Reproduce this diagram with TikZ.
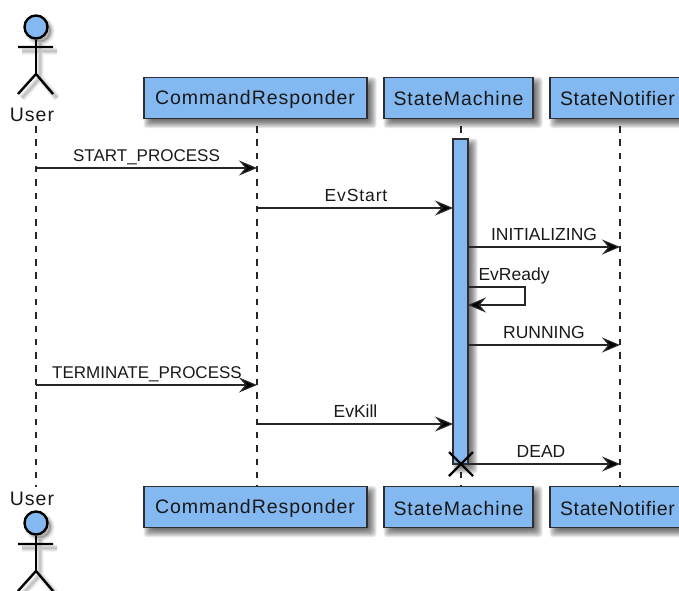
\documentclass[tikz,border=0pt]{standalone}
\usepackage{fontspec}
\setmainfont{Liberation Sans}
\newfontfamily\actorfont[LetterSpace=5]{Liberation Sans}
\newfontfamily\notifierfont[LetterSpace=3.2]{Liberation Sans}
\usetikzlibrary{arrows.meta}
\definecolor{umlblue}{RGB}{131,184,240}
\definecolor{umlline}{RGB}{45,45,50}
\newcommand{\softbox}[4]{%
  \foreach \m in {5,4,3,2,1,0,-1,-2,-3}{%
    \fill[black,opacity=.085,rounded corners=3pt]
      ({#1+4.5-\m},{#2+4.5-\m}) rectangle ({#3+4.5+\m},{#4+4.5+\m});%
  }%
}
\tikzset{
  x=1pt,y=-1pt,
  actorbox/.style={draw=umlline,line width=1.6pt,fill=umlblue,rectangle,inner sep=0pt,minimum height=41pt},
  boxtext/.style={font=\actorfont\fontsize{19.5}{22}\selectfont,text=black!90,inner sep=0pt},
  lifeline/.style={draw=black!85,line width=1.3pt,dash pattern=on 6.5pt off 6.8pt},
  msg/.style={draw=black!85,line width=1.2pt,-{Stealth[length=18pt,width=15pt,inset=6.5pt,fill=black]}},
  msglabel/.style={font=\fontsize{17.5}{19}\selectfont,text=black!90,inner sep=0pt,anchor=base},
  longlabel/.style={msglabel,font=\fontsize{17}{19}\selectfont},
  widelabel/.style={msglabel,font=\actorfont\fontsize{17.5}{19}\selectfont},
  actorlabel/.style={font=\actorfont\fontsize{19.5}{22}\selectfont,text=black!90,inner sep=0pt,anchor=base},
  stick/.style={draw=black,line width=2.4pt},
  headshape/.style={circle,draw=black,line width=2.4pt,fill=umlblue,minimum size=23pt,inner sep=0pt},
}
\begin{document}
\begin{tikzpicture}
\clip (0,0) rectangle (679,590);

% soft shadows
\softbox{144}{77.5}{367}{118.5}
\softbox{384}{77.5}{533}{118.5}
\softbox{550}{77.5}{690}{118.5}
\softbox{144}{486.5}{367}{527.5}
\softbox{384}{486.5}{533}{527.5}
\softbox{550}{486.5}{690}{527.5}
\foreach \w/\o in {8/.035,6/.05,4/.07,2.5/.09}{
  \draw[draw=black,line width=\w pt,opacity=\o] (40,43)--(40,78) (22,51)--(57,51) (22,98)--(40,78)--(57,98);
  \draw[draw=black,line width=\w pt,opacity=\o,fill=black] (40,31) circle[radius=11];
  \draw[draw=black,line width=\w pt,opacity=\o] (40,539)--(40,575) (22,548)--(57,548) (22,595)--(40,575)--(57,595);
  \draw[draw=black,line width=\w pt,opacity=\o,fill=black] (40,527) circle[radius=11];
}

% boxes
\node[actorbox,minimum width=223pt] (crT) at (255.5,98) {};
\node[actorbox,minimum width=149pt] (smT) at (458.5,98) {};
\node[actorbox,minimum width=140pt] (snT) at (620,98) {};
\node[boxtext] (crTt) at (255,99) {CommandResponder};
\node[boxtext] (smTt) at (458.5,99) {StateMachine};
\node[boxtext,font=\notifierfont\fontsize{19.5}{22}\selectfont] (snTt) at (617.5,99) {StateNotifier};
\node[actorbox,minimum width=223pt] (crB) at (255.5,507) {};
\node[actorbox,minimum width=149pt] (smB) at (458.5,507) {};
\node[actorbox,minimum width=140pt] (snB) at (620,507) {};
\node[boxtext] (crBt) at (255,508.5) {CommandResponder};
\node[boxtext] (smBt) at (458.5,508.5) {StateMachine};
\node[boxtext,font=\notifierfont\fontsize{19.5}{22}\selectfont] (snBt) at (617.5,508.5) {StateNotifier};

% top user
\node[headshape] (headT) at (36,27) {};
\draw[stick] (headT.south)--(36,74) coordinate (hipT);
\coordinate (armLT) at (18,47); \coordinate (armRT) at (53,47);
\coordinate (legLT) at (18,94); \coordinate (legRT) at (53,94);
\draw[stick] (armLT)--(armRT) (legLT)--(hipT)--(legRT);
\node[actorlabel] (userT) at (32,121) {User};

% bottom user
\node[headshape] (headB) at (36,523) {};
\draw[stick] (headB.south)--(36,571) coordinate (hipB);
\coordinate (armLB) at (18,544); \coordinate (armRB) at (53,544);
\coordinate (legLB) at (18,591); \coordinate (legRB) at (53,591);
\draw[stick] (armLB)--(armRB) (legLB)--(hipB)--(legRB);
\node[actorlabel] (userB) at (32,505) {User};

% lifelines
\coordinate (lu1) at (36,126); \coordinate (lu2) at (36,487);
\coordinate (lc1) at (257,126); \coordinate (lc2) at (257,486);
\coordinate (ls1) at (461,126); \coordinate (ls2) at (461,486);
\coordinate (ln1) at (620,126); \coordinate (ln2) at (620,486);
\draw[lifeline] (lu1)--(lu2);
\draw[lifeline] (lc1)--(lc2);
\draw[lifeline] (ls1)--(ls2);
\draw[lifeline] (ln1)--(ln2);

% activation
\softbox{453}{139}{468}{464}
\node[rectangle,draw=umlline,line width=1.6pt,fill=umlblue,inner sep=0pt,minimum width=15pt,minimum height=325pt] (act) at (460.5,301.5) {};

% messages
\coordinate (a1) at (36,168); \coordinate (b1) at (257,168);
\coordinate (a2) at (257,208); \coordinate (b2) at (453,208);
\coordinate (a3) at (468,247); \coordinate (b3) at (620,247);
\coordinate (a4) at (468,287); \coordinate (c4) at (525,287); \coordinate (d4) at (525,305); \coordinate (b4) at (468,305);
\coordinate (a5) at (468,345); \coordinate (b5) at (620,345);
\coordinate (a6) at (36,385); \coordinate (b6) at (257,385);
\coordinate (a7) at (257,424); \coordinate (b7) at (453,424);
\coordinate (a8) at (468,464); \coordinate (b8) at (620,464);
\draw[msg] (a1)--(b1);
\draw[msg] (a2)--(b2);
\draw[msg] (a3)--(b3);
\draw[msg] (a4)--(c4)--(d4)--(b4);
\draw[msg] (a5)--(b5);
\draw[msg] (a6)--(b6);
\draw[msg] (a7)--(b7);
\draw[msg] (a8)--(b8);

\node[longlabel] (t1) at (146.5,161) {START\_PROCESS};
\node[widelabel] (t2) at (356,201) {EvStart};
\node[msglabel] (t3) at (544,240.5) {INITIALIZING};
\node[msglabel] (t4) at (514,280) {EvReady};
\node[msglabel] (t5) at (544,338) {RUNNING};
\node[longlabel] (t6) at (147,378) {TERMINATE\_PROCESS};
\node[msglabel] (t7) at (355.5,417) {EvKill};
\node[msglabel] (t8) at (541,457) {DEAD};

% destroy mark
\coordinate (x1) at (449,452); \coordinate (x2) at (473,476);
\coordinate (x3) at (473,452); \coordinate (x4) at (449,476);
\draw[black,line width=2.2pt] (x1)--(x2) (x3)--(x4);
\end{tikzpicture}
\end{document}
